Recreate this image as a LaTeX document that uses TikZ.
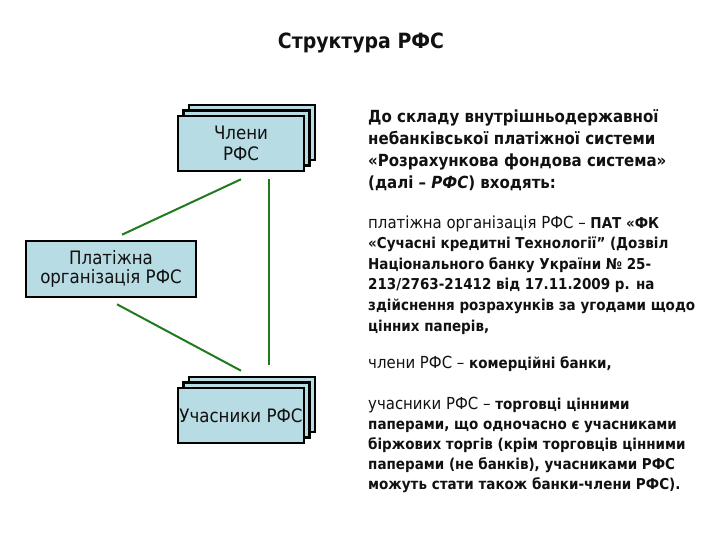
\documentclass[tikz,border=0pt]{standalone}
\usepackage{fontspec}
\setmainfont{DejaVu Sans Condensed}
\usepackage{xcolor}
\definecolor{cardFill}{HTML}{B8DCE3}
\definecolor{linkGreen}{HTML}{1E7B1E}
\definecolor{darkText}{HTML}{111111}
\usepackage{tikz}
\usetikzlibrary{shadows, calc}

\begin{document}
\begin{tikzpicture}[
    x=1pt, y=-1pt,
    cardBox/.style={
        rectangle,
        draw=black,
        fill=cardFill,
        line width=2.6pt,
        minimum width=126pt,
        minimum height=55pt,
        inner sep=0pt,
        align=center,
        text=darkText,
        font=\fontsize{18.5}{21}\selectfont
    },
    stackBox/.style={
        cardBox,
        copy shadow={shadow xshift=11pt, shadow yshift=11pt},
        copy shadow={shadow xshift=5.5pt, shadow yshift=5.5pt}
    },
    infoText/.style={
        anchor=base west,
        inner sep=0pt,
        align=left,
        text=darkText
    },
    linkLine/.style={
        line width=2pt,
        color=linkGreen
    }
]
\useasboundingbox (0,0) rectangle (720,540);

% Title
\node[font=\bfseries\fontsize{21}{25}\selectfont, text=darkText] (title) at (361,43) {Структура РФС};

% Members (stacked cards)
\node[stackBox] (chleny) at (241,143.5) {Члени\\РФС};

% Payment organisation
\node[cardBox, minimum width=170pt, minimum height=56pt, font=\fontsize{18.5}{19.5}\selectfont] (plat) at (111,269) {Платіжна\\організація РФС};

% Participants (stacked cards)
\node[stackBox] (uchas) at (241,415.5) {Учасники РФС};

% Connecting lines
\draw[linkLine] ([xshift=11pt, yshift=5pt]plat.north) -- ([yshift=-7pt]chleny.south);
\draw[linkLine] ([xshift=28pt, yshift=-7pt]chleny.south) -- ([xshift=28pt, yshift=22pt]uchas.north);
\draw[linkLine] ([xshift=6pt, yshift=-6pt]plat.south) -- ([yshift=16pt]uchas.north);

% Description texts (anchored at the last baseline)
\node[infoText, font=\bfseries\fontsize{16.7}{22}\selectfont] (intro) at (368,189) {%
    До складу внутрішньодержавної\\
    небанківської платіжної системи\\
    «Розрахункова фондова система»\\
    (далі – \textit{РФС}) входять:};

\node[infoText, font=\bfseries\fontsize{15}{20.6}\selectfont] (orgText) at (368,331) {%
    {\mdseries\fontsize{16.6}{20.6}\selectfont платіжна організація РФС –} ПАТ «ФК\\
    «Сучасні кредитні Технології” (Дозвіл\\
    Національного банку України № 25-\\
    213/2763-21412 від 17.11.2009 р. на\\
    здійснення розрахунків за угодами щодо\\
    цінних паперів,};

\node[infoText, font=\bfseries\fontsize{15}{20}\selectfont] (memText) at (368,368) {%
    {\mdseries\fontsize{16.6}{20}\selectfont члени РФС –} комерційні банки,};

\node[infoText, font=\bfseries\fontsize{15}{20}\selectfont] (partText) at (368,489) {%
    {\mdseries\fontsize{16.6}{20}\selectfont учасники РФС –} торговці цінними\\
    паперами, що одночасно є учасниками\\
    біржових торгів (крім торговців цінними\\
    паперами (не банків), учасниками РФС\\
    можуть стати також банки-члени РФС).};

\end{tikzpicture}
\end{document}
